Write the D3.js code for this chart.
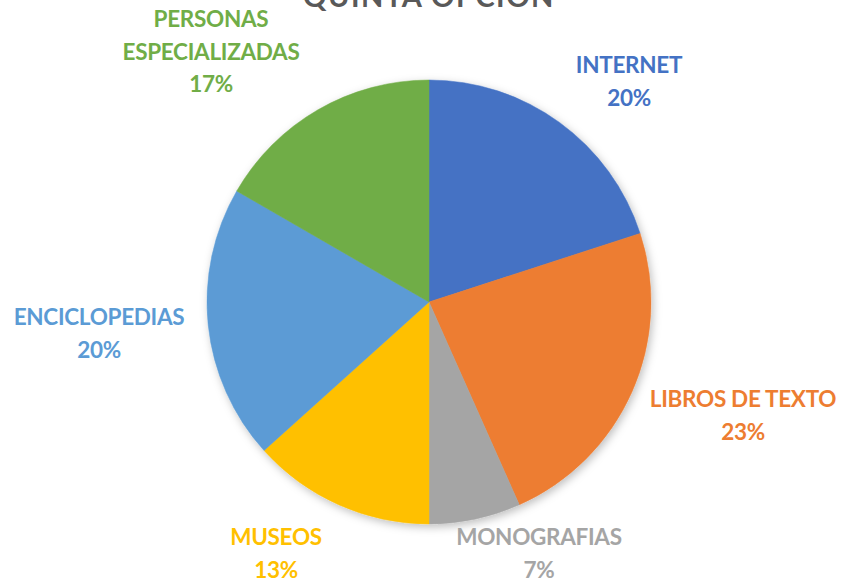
<!DOCTYPE html>
<html>
<head>
<meta charset="utf-8">
<script src="https://cdn.jsdelivr.net/npm/d3@7"></script>
<style>
	body { margin: 0; background: #fff; }
	svg { display: block; }
	text { font-family: Lato, 'Open Sans', sans-serif; font-weight: bold; }
</style>
</head>
<body>
<div id="chart"></div>
<script>
// chart data
var categories = ['INTERNET', 'LIBROS DE TEXTO', 'MONOGRAFIAS', 'MUSEOS', 'ENCICLOPEDIAS', 'PERSONAS ESPECIALIZADAS'];
var counts = [6, 7, 2, 4, 6, 5];
var title = 'QUINTA OPCIÓN';

var colors = ['#4472c4', '#ed7d31', '#a5a5a5', '#ffc000', '#5b9bd5', '#70ad47'];
// label anchor (center x, first baseline y) and line breaks, per slice
var label_fmt = [
	{x: 629, y: 73, lines: ['INTERNET']},
	{x: 743, y: 407, lines: ['LIBROS DE TEXTO']},
	{x: 539, y: 545, lines: ['MONOGRAFIAS']},
	{x: 276, y: 545, lines: ['MUSEOS']},
	{x: 99, y: 325, lines: ['ENCICLOPEDIAS']},
	{x: 211, y: 27, lines: ['PERSONAS', 'ESPECIALIZADAS']}
];

var chart_fmt = {
	width: 851,
	height: 585,
	cx: 429,
	cy: 302,
	radius: 222,
	line_h: 32.5,
	font_size: 22.5
};

var svg = d3.select('#chart').append('svg')
	.attr('width', chart_fmt.width)
	.attr('height', chart_fmt.height);

// soft shadow like the office style
var defs = svg.append('defs');
var flt = defs.append('filter').attr('id', 'shadow')
	.attr('x', '-10%').attr('y', '-10%').attr('width', '125%').attr('height', '125%');
flt.append('feDropShadow')
	.attr('dx', 2).attr('dy', 3).attr('stdDeviation', 4)
	.attr('flood-color', '#000').attr('flood-opacity', 0.25);

// title (cut at top, as in the reference)
svg.append('text')
	.attr('x', chart_fmt.cx)
	.attr('y', 7)
	.attr('text-anchor', 'middle')
	.style('font-size', '29px')
	.style('letter-spacing', '1.5px')
	.attr('fill', '#595959')
	.text(title);

var data = categories.map(function(c, i) { return {cat: c, value: counts[i], idx: i}; });
var total = d3.sum(counts);

var pie = d3.pie()
	.value(function(d) { return d.value; })
	.sort(null);
var arc = d3.arc()
	.innerRadius(0)
	.outerRadius(chart_fmt.radius);

var g = svg.append('g')
	.attr('transform', `translate(${chart_fmt.cx},${chart_fmt.cy})`);

g.append('g')
	.attr('filter', 'url(#shadow)')
	.selectAll('path')
	.data(pie(data))
	.join('path')
	.attr('d', arc)
	.attr('fill', function(d) { return colors[d.data.idx]; })
	.attr('stroke', function(d) { return colors[d.data.idx]; })
	.attr('stroke-width', 0.5);

// data labels
var fmtPct = d3.format('.0%');
data.forEach(function(d, i) {
	var lf = label_fmt[i];
	var lines = lf.lines.concat([fmtPct(d.value / total)]);
	var t = svg.append('text')
		.attr('text-anchor', 'middle')
		.attr('fill', colors[i])
		.style('font-size', chart_fmt.font_size + 'px')
		.style('letter-spacing', '-0.3px');
	lines.forEach(function(s, k) {
		t.append('tspan')
			.attr('x', lf.x)
			.attr('y', lf.y + k * chart_fmt.line_h)
			.text(s);
	});
});
</script>
</body>
</html>
